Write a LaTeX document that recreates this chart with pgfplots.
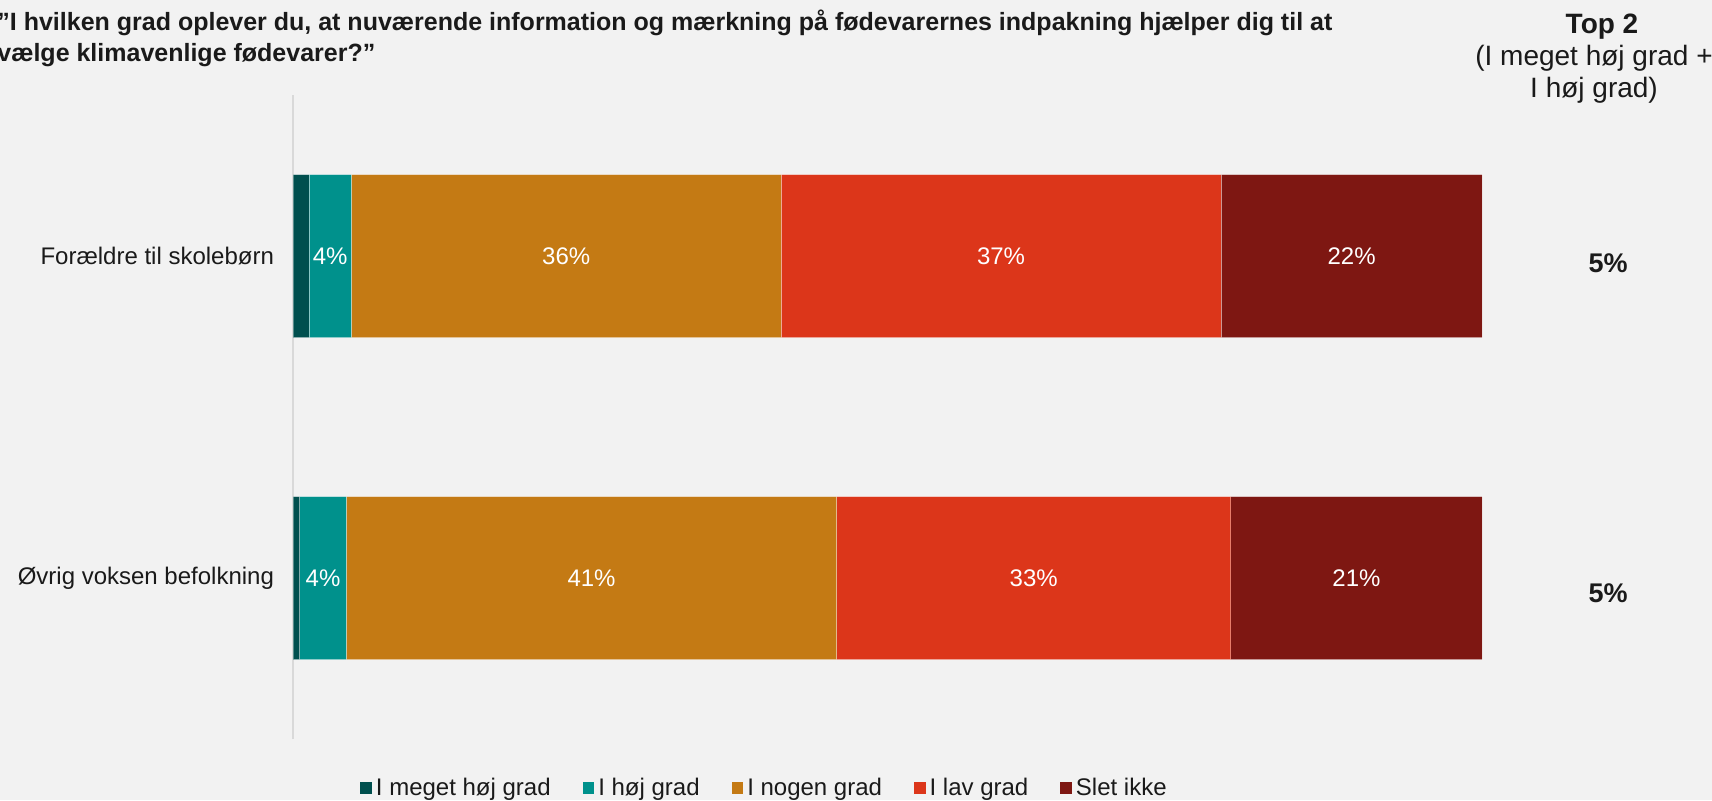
\documentclass[border=0pt]{standalone}
\usepackage{pgfplots}
\usepackage{pgfplotstable}
\pgfplotsset{compat=1.18}
\usepackage{fontspec}
\setmainfont{Liberation Sans}
\definecolor{bg}{HTML}{F2F2F2}
\definecolor{c1}{HTML}{004F4E}
\definecolor{c2}{HTML}{00918C}
\definecolor{c3}{HTML}{C47A14}
\definecolor{c4}{HTML}{DC361A}
\definecolor{c5}{HTML}{7E1712}
\definecolor{axgray}{HTML}{D9D9D9}
\definecolor{txt}{HTML}{1A1A1A}

\pgfplotstableread{
y a b c d e
0 0.56 3.93 41.24 33.15 21.12
1 1.35 3.55 36.15 37.00 21.95
}\bars

\pgfplotstableread{
x y lab
3.13 1 4
22.98 1 36
59.55 1 37
89.03 1 22
2.53 0 4
25.11 0 41
62.30 0 33
89.44 0 21
}\labs

\pgfplotstableread{
x y lab
110.6 0.976 5
110.6 -0.047 5
}\toptwo

\begin{document}
\begin{tikzpicture}[x=1pt,y=1pt]
\fill[bg] (0,0) rectangle (856,400);
\useasboundingbox (0,0) rectangle (856,400);
\node[anchor=north west, align=left, font=\bfseries\fontsize{12.5}{15.25}\selectfont, inner sep=0pt, text=txt] at (-1.5,395) {”I hvilken grad oplever du, at nuværende information og mærkning på fødevarernes indpakning hjælper dig til at\\vælge klimavenlige fødevarer?”};
\node[anchor=north, align=center, font=\fontsize{14}{15.9}\selectfont, inner sep=0pt, text=txt] at (797,393) {{\bfseries\hspace*{8pt}Top 2}\\(I meget høj grad +\\I høj grad)};

\begin{axis}[
  at={(146.5pt,30.5pt)}, anchor=south west,
  scale only axis, width=594.5pt, height=322pt,
  xmin=0, xmax=100, ymin=-0.5, ymax=1.5,
  xbar stacked, bar width=81.5pt,
  axis x line=none, axis y line*=left,
  y axis line style={draw=axgray, line width=1pt},
  xtick=\empty, ytick={0,1},
  yticklabels={Øvrig voksen befolkning, Forældre til skolebørn},
  major tick length=0pt,
  yticklabel style={font=\fontsize{12}{14}\selectfont, text=txt, xshift=-6pt},
  clip=false,
  legend columns=5,
  legend style={at={(0.0563,-0.076)}, anchor=west, draw=none, fill=none,
    font=\fontsize{12}{14}\selectfont, text=txt, inner sep=0pt,
    /tikz/every even column/.append style={column sep=14pt}},
  legend image code/.code={\fill[#1, draw=none] (0pt,-2.9pt) rectangle (5.8pt,2.9pt);},
  every axis plot/.append style={draw=white, draw opacity=0.35, line width=0.5pt},
]
\addplot[fill=c1] table[x=a, y=y] {\bars};
\addplot[fill=c2] table[x=b, y=y] {\bars};
\addplot[fill=c3] table[x=c, y=y] {\bars};
\addplot[fill=c4] table[x=d, y=y] {\bars};
\addplot[fill=c5] table[x=e, y=y] {\bars};
\legend{I meget høj grad, I høj grad, I nogen grad, I lav grad, Slet ikke}
\end{axis}

\begin{axis}[
  at={(146.5pt,30.5pt)}, anchor=south west,
  scale only axis, width=594.5pt, height=322pt,
  xmin=0, xmax=100, ymin=-0.5, ymax=1.5,
  hide axis, clip=false,
]
\addplot[draw=none, mark=none, nodes near coords={\pgfplotspointmeta\%},
  point meta=explicit symbolic,
  every node near coord/.append style={font=\fontsize{12}{14}\selectfont, text=white, anchor=center, inner sep=0pt}]
  table[x=x, y=y, meta=lab] {\labs};
\addplot[draw=none, mark=none, nodes near coords={\pgfplotspointmeta\%},
  point meta=explicit symbolic,
  every node near coord/.append style={font=\bfseries\fontsize{13.5}{15}\selectfont, text=txt, anchor=center, inner sep=0pt}]
  table[x=x, y=y, meta=lab] {\toptwo};
\end{axis}
\end{tikzpicture}
\end{document}
